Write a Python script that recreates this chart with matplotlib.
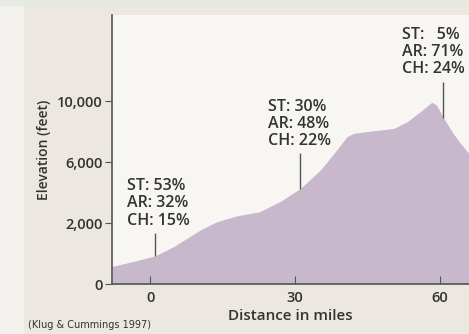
import numpy as np
import matplotlib.pyplot as plt
from matplotlib.patches import Rectangle

plt.rcParams['font.family'] = ['Open Sans', 'DejaVu Sans']

# elevation profile (miles, feet)
miles = [-7.9, -3.5, 1.0, 4.8, 10.4, 13.8, 17.9, 22.7, 26.9, 31.2, 35.3, 38.1,
         40.8, 42.2, 45.0, 50.5, 53.3, 56.0, 58.4, 59.4, 60.7, 62.8, 64.3, 66.1]
elev = [574, 740, 920, 1220, 1770, 2080, 2460, 2740, 3400, 4280, 5480, 6560,
        7660, 7880, 8000, 8200, 8640, 9300, 9920, 9720, 8960, 7880, 7240, 6560]

# composition labels at three sites
site_mile = [1.0, 31.0, 60.8]
site_text = ["ST: 53%\nAR: 32%\nCH: 15%",
             "ST: 30%\nAR: 48%\nCH: 22%",
             "ST:   5%\nAR: 71%\nCH: 24%"]

yticks = [0, 2000, 6000, 10000]
ytick_labels = ["0", "2,000", "6,000", "10,000"]
xticks = [0, 30, 60]

# axis ticks are evenly spaced though values are not
knots_ft = [-2000, 0, 2000, 6000, 10000, 30000]
knots_u = [-1, 0, 1, 2, 3, 8]
def fwd(y):
    return np.interp(y, knots_ft, knots_u)
def inv(u):
    return np.interp(u, knots_u, knots_ft)

fig = plt.figure(figsize=(4.69, 3.34), dpi=100, facecolor='#ece7e1')
fig.patches.append(Rectangle((0, 0), 23/469, 1, transform=fig.transFigure,
                             color='#f3f1ee', zorder=0))
fig.patches.append(Rectangle((0, 1 - 5/334), 1, 5/334, transform=fig.transFigure,
                             color='#e6eae0', zorder=0))

ax = fig.add_axes([112/469, 50/334, 357/469, 269/334])
ax.set_facecolor('#f8f6f3')
ax.set_yscale('function', functions=(fwd, inv))
ax.fill_between(miles, 0, elev, color='#c7b8cb', lw=0)
ax.set_xlim(-7.9, 66.1)
ax.set_ylim(0, 15640)

tc = '#333333'
for m, t, dy, tx in zip(site_mile, site_text, [(1672, 3280), (6590, 8480), (11240, 13200)],
                        [1.7, 31.0, 58.8]):
    base = np.interp(m, miles, elev)
    ax.vlines(m, base, dy[0], color='#555555', lw=1)
    ax.text(tx, dy[1], t, ha='center', va='center', fontsize=11.5, color=tc,
            multialignment='left', linespacing=1.1, fontweight='semibold')

ax.set_yticks(yticks)
ax.set_yticklabels(ytick_labels, fontweight='semibold')
ax.set_xticks(xticks)
ax.set_xticklabels([str(v) for v in xticks], fontweight='semibold')
ax.tick_params(axis='y', direction='out', length=5, color='#555555', labelsize=10.5,
               labelcolor=tc, pad=2)
ax.tick_params(axis='x', direction='in', length=6, color='#555555', labelsize=10.5,
               labelcolor=tc, pad=5)
ax.minorticks_off()
for s in ['top', 'right']:
    ax.spines[s].set_visible(False)
for s in ['left', 'bottom']:
    ax.spines[s].set_color('#555555')
    ax.spines[s].set_linewidth(1.2)

ax.set_xlabel('Distance in miles', fontsize=11, color=tc, labelpad=3,
              fontweight='semibold')
ax.set_ylabel('Elevation (feet)', fontsize=10, color=tc, labelpad=4,
              fontweight='semibold')

fig.text(28/469, 1 - 325/334, '(Klug & Cummings 1997)', fontsize=7, color=tc,
         va='center', family=['Liberation Sans Narrow', 'DejaVu Sans'])

fig.savefig('out.png', dpi=100, facecolor=fig.get_facecolor())
